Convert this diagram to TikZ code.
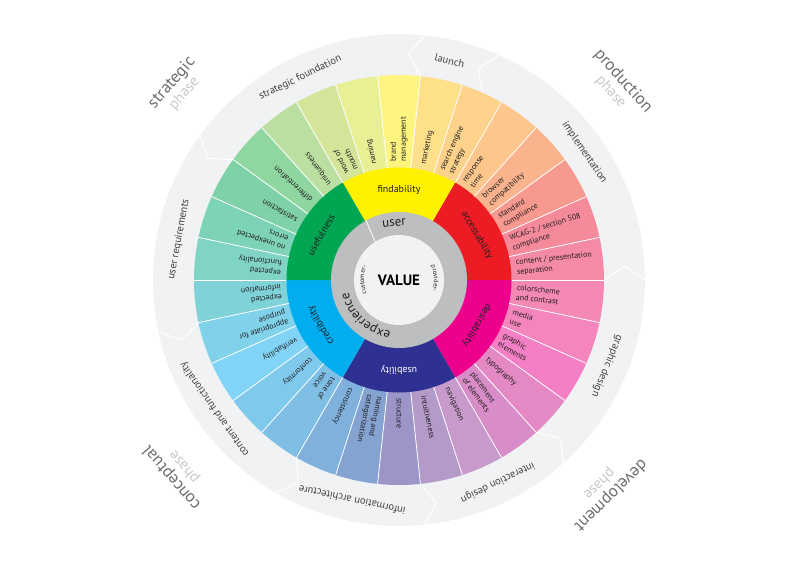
\documentclass[tikz,border=0pt]{standalone}
\usepackage{fontspec}
\setmainfont{PT Sans}
\usetikzlibrary{decorations.text}
\definecolor{ringbg}{HTML}{F1F2F4}
\definecolor{greyring}{HTML}{BCBEC0}
\definecolor{centerbg}{HTML}{F2F2F2}
\definecolor{txt}{HTML}{231F20}
\definecolor{sectxt}{HTML}{414042}
\definecolor{phasemain}{HTML}{6D6E71}
\definecolor{phasesub}{HTML}{C7C8CA}
\definecolor{cfind}{HTML}{FFF200}
\definecolor{cacc}{HTML}{ED1C24}
\definecolor{cdes}{HTML}{EC008C}
\definecolor{cusa}{HTML}{2E3192}
\definecolor{ccred}{HTML}{00AEEF}
\definecolor{cuse}{HTML}{00A651}
\newcommand{\wseg}[5]{\fill[#5] (#1:#3pt) arc[start angle=#1,end angle=#2,radius=#3pt] -- (#2:#4pt) arc[start angle=#2,end angle=#1,radius=#4pt] -- cycle;}
\tikzset{
  petal/.style={anchor=west, inner sep=0pt, font=\fontsize{8}{10}\selectfont, align=left, text=txt},
  midlbl/.style={inner sep=0pt, font=\fontsize{10}{12}\selectfont, text=txt},
  seclbl/.style={inner sep=0pt, font=\fontsize{10.5}{12}\selectfont, text=sectxt},
  phaselbl/.style={inner sep=0pt, align=center, font=\fontsize{17}{16}\selectfont},
  sepline/.style={draw=white, line width=0.8pt},
  chevline/.style={draw=white, line width=1pt, line join=miter},
}
\begin{document}
\begin{tikzpicture}
\useasboundingbox (-399pt,-293pt) rectangle (401pt,280pt);
\fill[ringbg] (0,0) circle[radius=246pt];
% petals
\foreach \a/\c in {168/7FD4C6,156/7DD3B7,144/7FD2A7,132/8FD6A1,120/BBDFA0,108/D4E59A,96/E8EF95,84/FEF581,72/FEE08B,60/FDD28A,48/FDC68C,36/F9B48E,24/F6998F,12/F58A9A,0/F58AA6,-12/F589B5,-24/F585BD,-36/F47FC4,-48/E589C4,-60/D88DC8,-72/C79ACB,-84/B39AC9,-96/9C95C8,-108/85A3D1,-120/7FB1DC,-132/7FBFE5,-144/7FC9EC,-156/82D4F6,-168/7FD2EA,-180/7FD3D8}{
  \definecolor{pc}{HTML}{\c}
  \pgfmathsetmacro{\b}{\a+12}
  \wseg{\a}{\b}{112}{205}{pc}
}
% middle ring
\wseg{60}{120}{67}{112.5}{cfind}
\wseg{0}{60}{67}{112.5}{cacc}
\wseg{-60}{0}{67}{112.5}{cdes}
\wseg{-120}{-60}{67}{112.5}{cusa}
\wseg{180}{240}{67}{112.5}{ccred}
\wseg{120}{180}{67}{112.5}{cuse}
\fill[greyring] (0,0) circle[radius=68pt];
\fill[centerbg] (0,0) circle[radius=45pt];
\draw[sepline] (122:45pt) -- (119:68pt);
% petal separators
\foreach \a in {0,12,...,348} \draw[sepline] (\a:112.5pt) -- (\a:205pt);
% chevrons
\foreach \b [evaluate=\b as \bt using \b+3.5] in {144,84,66,0,-48,-84,-120,-168}
  \draw[chevline] (\b:205pt) -- (\bt:226pt) -- (\b:246pt);
% petal labels
\node[petal, rotate=174] (p1) at (174:118pt) {expected\\functionality};
\node[petal, rotate=162] (p2) at (162:118pt) {no unexpected\\errors};
\node[petal, rotate=150] (p3) at (150:118pt) {satisfaction};
\node[petal, rotate=138] (p4) at (138:118pt) {differentiation};
\node[petal, rotate=126] (p5) at (126:118pt) {uniqueness};
\node[petal, rotate=114] (p6) at (114:118pt) {word of\\mouth};
\node[petal, rotate=102] (p7) at (102:118pt) {naming};
\node[petal, rotate=90] (p8) at (90:118pt) {brand\\management};
\node[petal, rotate=78] (p9) at (78:118pt) {marketing};
\node[petal, rotate=66] (p10) at (66:118pt) {search engine\\strategy};
\node[petal, rotate=54] (p11) at (54:118pt) {response\\time};
\node[petal, rotate=42] (p12) at (42:118pt) {browser\\compatibility};
\node[petal, rotate=30] (p13) at (30:118pt) {standard\\compliance};
\node[petal, rotate=18] (p14) at (18:118pt) {WCAG-2 / section 508\\compliance};
\node[petal, rotate=6] (p15) at (6:118pt) {content / presentation\\separation};
\node[petal, rotate=-6] (p16) at (-6:118pt) {colorscheme\\and contrast};
\node[petal, rotate=-18] (p17) at (-18:118pt) {media\\use};
\node[petal, rotate=-30] (p18) at (-30:118pt) {graphic\\elements};
\node[petal, rotate=-42] (p19) at (-42:118pt) {typography};
\node[petal, rotate=-54] (p20) at (-54:118pt) {placement\\of elements};
\node[petal, rotate=-66] (p21) at (-66:118pt) {navigation};
\node[petal, rotate=-78] (p22) at (-78:118pt) {intuitiveness};
\node[petal, rotate=-90] (p23) at (-90:118pt) {structure};
\node[petal, rotate=-102] (p24) at (-102:118pt) {naming and\\categorization};
\node[petal, rotate=-114] (p25) at (-114:118pt) {consistency};
\node[petal, rotate=-126] (p26) at (-126:118pt) {tone of\\voice};
\node[petal, rotate=-138] (p27) at (-138:118pt) {conformity};
\node[petal, rotate=-150] (p28) at (-150:118pt) {verifiability};
\node[petal, rotate=-162] (p29) at (-162:118pt) {appropriate for\\purpose};
\node[petal, rotate=-174] (p30) at (-174:118pt) {expected\\information};
% middle labels
\node[midlbl, rotate=0] (m1) at (90:90pt) {findability};
\node[midlbl, rotate=-60] (m2) at (30:90pt) {accessability};
\node[midlbl, rotate=-120] (m3) at (-30:90pt) {desirability};
\node[midlbl, rotate=-180, text=white] (m4) at (-90:90pt) {usability};
\node[midlbl, rotate=120] (m5) at (-150:90pt) {credibility};
\node[midlbl, rotate=60] (m6) at (150:90pt) {usefulness};
% section labels
\node[seclbl, rotate=26] (s1) at (116:225pt) {strategic foundation};
\node[seclbl, rotate=-13] (s2) at (77:225pt) {launch};
\node[seclbl, rotate=-55.5] (s3) at (34.5:225pt) {implementation};
\node[seclbl, rotate=-112.5] (s4) at (-22.5:225pt) {graphic design};
\node[seclbl, rotate=-154] (s5) at (-64:225pt) {interaction design};
\node[seclbl, rotate=-192] (s6) at (-102:225pt) {information architecture};
\node[seclbl, rotate=-235] (s7) at (-145:225pt) {content and functionality};
\node[seclbl, rotate=79.5] (s8) at (169.5:224pt) {user requirements};
% phase labels
\node[phaselbl, rotate=49] (ph1) at (139:293pt) {\color{phasemain}strategic\\\color{phasesub}\fontsize{15}{16}\selectfont phase};
\node[phaselbl, rotate=-48.4] (ph2) at (41.6:292pt) {\color{phasemain}production\\\color{phasesub}\fontsize{15}{16}\selectfont phase};
\node[phaselbl, rotate=-135.5] (ph3) at (-45.5:294pt) {\color{phasemain}development\\\color{phasesub}\fontsize{15}{16}\selectfont phase};
\node[phaselbl, rotate=-229] (ph4) at (-139:293pt) {\color{phasemain}conceptual\\\color{phasesub}\fontsize{15}{16}\selectfont phase};
% center texts
\node[inner sep=0pt, font=\fontsize{13}{14}\selectfont, text=txt, rotate=5] (u) at (95:57pt) {user};
\path[decorate, decoration={text along path, text={|\fontsize{13}{14}\selectfont\color{txt}|experience}, text align=fit to path}] (261:52pt) arc[start angle=261, end angle=196, radius=52pt];
\path[decorate, decoration={text along path, text={|\fontsize{6.5}{7}\selectfont\color{txt}|customer-}, text align=center}] (206:35pt) arc[start angle=206, end angle=154, radius=35pt];
\path[decorate, decoration={text along path, text={|\fontsize{6.5}{7}\selectfont\color{txt}|provider-}, text align=center}] (27:35pt) arc[start angle=27, end angle=-21, radius=35pt];
\node[inner sep=0pt, font=\fontsize{15}{16}\selectfont\bfseries, text=black] (v) at (0,0) {VALUE};
\end{tikzpicture}
\end{document}
